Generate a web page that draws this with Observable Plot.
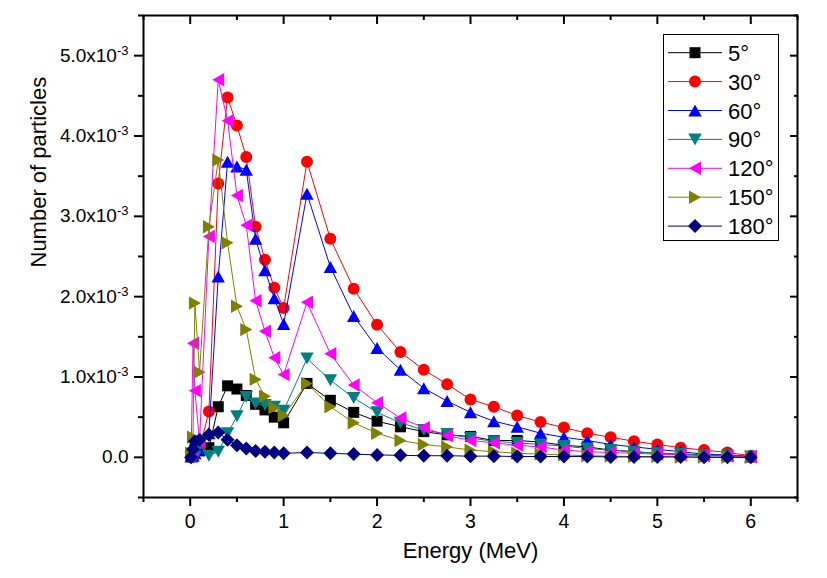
<!DOCTYPE html>
<html><head><meta charset="utf-8">
<script src="https://cdn.jsdelivr.net/npm/d3@7"></script>
<script src="https://cdn.jsdelivr.net/npm/@observablehq/plot@0.6"></script>
<style>
body{margin:0;background:#fff}
svg{font-family:"Liberation Sans",Arial,sans-serif}
</style>
</head><body><div id="chart"></div>
<script>
// Energy grid (MeV)
const energy = [0.01,0.03,0.05,0.1,0.2,0.3,0.4,0.5,0.6,0.7,0.8,0.9,1.0,
  1.25,1.5,1.75,2.0,2.25,2.5,2.75,3.0,3.25,3.5,3.75,4.0,4.25,4.5,4.75,5.0,5.25,5.5,5.75,6.0];
// Values in units of 1e-3
const yUnit = 1e-3;
const angles = ["5°","30°","60°","90°","120°","150°","180°"];
const colors = ["#000000","#FF0000","#0000FF","#008080","#FF00FF","#808000","#000080"];
const a5   = [0.02,0.05,0.1,0.08, 0.12,0.63,0.89,0.85,0.77,0.66,0.59,0.50,0.43,
  0.92,0.71,0.56,0.45,0.38,0.32,0.28,0.26,0.21,0.21,0.19,0.15,0.13,0.09,0.07,0.05,0.04,0.03,0.02,0.01];
const a30  = [0.0,0.02,0.05,0.1, 0.57,3.41,4.48,4.13,3.74,2.87,2.46,2.11,1.86,
  3.68,2.72,2.10,1.65,1.31,1.09,0.91,0.72,0.63,0.52,0.44,0.37,0.30,0.25,0.20,0.16,0.12,0.09,0.06,0.02];
const a60  = [0.01,0.02,0.05,0.1, 0.3,2.25,3.68,3.62,3.58,2.72,2.33,1.98,1.66,
  3.28,2.37,1.76,1.36,1.09,0.86,0.70,0.56,0.45,0.38,0.30,0.25,0.21,0.16,0.13,0.10,0.07,0.04,0.03,0.01];
const a90  = [0.0,0.01,0.0,0.15, 0.02,0.07,0.3,0.51,0.75,0.67,0.65,0.63,0.58,
  1.23,0.96,0.74,0.56,0.43,0.34,0.29,0.24,0.20,0.18,0.16,0.14,0.11,0.09,0.07,0.05,0.04,0.03,0.02,0.01];
const a120 = [0.05,1.42,0.83,0.2, 2.75,4.70,4.19,3.26,2.89,1.95,1.57,1.24,1.03,
  1.93,1.29,0.90,0.68,0.49,0.37,0.27,0.21,0.18,0.15,0.13,0.09,0.07,0.06,0.05,0.04,0.03,0.02,0.015,0.01];
const a150 = [0.05,0.25,1.92,1.06, 2.87,3.70,2.67,1.88,1.59,0.97,0.76,0.62,0.52,
  0.92,0.63,0.43,0.30,0.21,0.16,0.13,0.09,0.07,0.05,0.04,0.03,0.02,0.015,0.01,0.01,0.005,0.005,0.0,0.0];
const a180 = [0.0,0.1,0.2,0.22, 0.28,0.31,0.22,0.15,0.11,0.08,0.07,0.06,0.05,
  0.06,0.05,0.04,0.03,0.025,0.02,0.02,0.015,0.015,0.01,0.01,0.01,0.01,0.005,0.005,0.005,0.005,0.0,0.0,0.0];
const seriesValues = [a5,a30,a60,a90,a120,a150,a180];

const xMajor = [0,1,2,3,4,5,6];
const xMinor = [-0.5,0.5,1.5,2.5,3.5,4.5,5.5,6.5];
const yMajorU = [0,1,2,3,4,5];
const yMinorU = [-0.5,0.5,1.5,2.5,3.5,4.5,5.5];

// marker shapes
const poly = (pts) => ({draw(ctx, size){
  const k = Math.sqrt(size/Math.PI)/6;
  ctx.moveTo(pts[0][0]*k, pts[0][1]*k);
  for (let i=1;i<pts.length;i++) ctx.lineTo(pts[i][0]*k, pts[i][1]*k);
  ctx.closePath();
}});
const symbols = [
  poly([[-5.5,-5.5],[5.5,-5.5],[5.5,5.5],[-5.5,5.5]]),
  {draw(ctx,size){const r=Math.sqrt(size/Math.PI); ctx.moveTo(r,0); ctx.arc(0,0,r,0,2*Math.PI);}},
  poly([[0,-6],[6.7,6],[-6.7,6]]),
  poly([[0,6],[6.7,-6],[-6.7,-6]]),
  poly([[-6,0],[6,-6.7],[6,6.7]]),
  poly([[6,0],[-6,-6.7],[-6,6.7]]),
  poly([[0,-7],[7,0],[0,7],[-7,0]])
];

const marks = [];
seriesValues.forEach((vals, i) => {
  const data = energy.map((e, j) => ({e, v: vals[j]*yUnit}));
  marks.push(Plot.line(data, {x:"e", y:"v", stroke: colors[i], strokeWidth: 1}));
  marks.push(Plot.dot(data, {x:"e", y:"v", r: 6, symbol: symbols[i], fill: colors[i], stroke: "none"}));
});

const yfmt = d => { const u = Math.round(d/yUnit*10)/10; return u === 0 ? "0.0" : u.toFixed(1) + "x10"; };

const plot = Plot.plot({
  width: 827, height: 578,
  marginLeft: 143, marginRight: 30, marginTop: 15, marginBottom: 81,
  x: {domain: [-0.5, 6.5]},
  y: {domain: [-0.5*yUnit, 5.5*yUnit]},
  style: {fontFamily: '"Liberation Sans", Arial, sans-serif', color: "#000", background: "#fff"},
  marks: [
    ...marks,
    Plot.frame({stroke: "#000", strokeWidth: 2}),
    Plot.axisX(xMajor, {anchor: "bottom", tickSize: 9, tickPadding: 8, strokeWidth: 2, fontSize: 19.5, tickFormat: d => String(d), label: null}),
    Plot.axisX(xMinor, {anchor: "bottom", tickSize: 5, strokeWidth: 2, tickFormat: () => "", label: null}),
    Plot.axisX(xMajor, {anchor: "top", tickSize: -8, strokeWidth: 2, tickFormat: () => "", label: null}),
    Plot.axisX(xMinor, {anchor: "top", tickSize: -4, strokeWidth: 2, tickFormat: () => "", label: null}),
    Plot.axisY(yMajorU.map(v => v*yUnit), {anchor: "left", tickSize: 9, tickPadding: 6, strokeWidth: 2, fontSize: 19, tickFormat: yfmt, label: null}),
    Plot.axisY(yMinorU.map(v => v*yUnit), {anchor: "left", tickSize: 5, strokeWidth: 2, tickFormat: () => "", label: null}),
    Plot.axisY(yMajorU.map(v => v*yUnit), {anchor: "right", tickSize: -8, strokeWidth: 2, tickFormat: () => "", label: null}),
    Plot.axisY(yMinorU.map(v => v*yUnit), {anchor: "right", tickSize: -4, strokeWidth: 2, tickFormat: () => "", label: null}),
    Plot.text(["Energy (MeV)"], {frameAnchor: "bottom", dy: 60, fontSize: 22, fill: "#000"}),
    Plot.text(["Number of particles"], {frameAnchor: "left", dx: -105, dy: 11, rotate: -90, fontSize: 22, fill: "#000"})
  ]
});
document.getElementById("chart").appendChild(plot);

// superscripts on y tick labels
d3.select(plot).selectAll('g[aria-label="y-axis tick label"] text').each(function(){
  const t = d3.select(this);
  if (t.text().endsWith("x10")) {
    t.append("tspan").attr("dy", "-0.55em").attr("font-size", 13).text("-3");
  }
});

// legend
const lg = d3.select(plot).append("g").attr("class","legend").attr("text-anchor","start");
lg.append("rect").attr("x", 663.5).attr("y", 34.5).attr("width", 115).attr("height", 206)
  .attr("fill", "#fff").attr("stroke", "#000").attr("stroke-width", 1);
angles.forEach((a, i) => {
  const yc = 52.7 + i*28.9;
  lg.append("line").attr("x1", 668).attr("x2", 722).attr("y1", yc).attr("y2", yc)
    .attr("stroke", colors[i]).attr("stroke-width", 1);
  lg.append("path").attr("transform", `translate(695,${yc})`)
    .attr("d", d3.symbol().type(symbols[i]).size(Math.PI*36)()).attr("fill", colors[i]);
  lg.append("text").attr("x", 728).attr("y", yc + 8).attr("font-size", 22).attr("fill", "#000")
    .attr("text-anchor", "start").text(a);
});
</script>
</body></html>
